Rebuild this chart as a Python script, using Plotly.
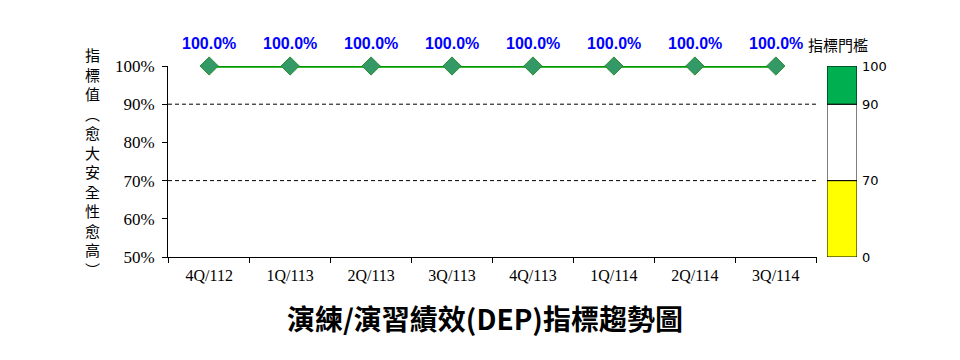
import plotly.graph_objects as go

categories = ["4Q/112", "1Q/113", "2Q/113", "3Q/113", "4Q/113", "1Q/114", "2Q/114", "3Q/114"]
values = [100.0, 100.0, 100.0, 100.0, 100.0, 100.0, 100.0, 100.0]
y_ticks = [50, 60, 70, 80, 90, 100]
ref_lines = [90, 70]
# threshold bands: (bottom, top, colour)
band_bottoms = [50, 70, 90]
band_tops = [70, 90, 100]
band_colors = ["#ffff00", "#ffffff", "#00b050"]
band_labels = ["0", "70", "90", "100"]
band_label_pos = [50, 70, 90, 100]

title_text = "演練/演習績效(DEP)指標趨勢圖"
ytitle_chars = list("指標值︵愈大安全性愈高︶")

W, H = 960, 360
ML, MR, MT, MB = 168, 90, 66, 103
plot_w = W - ML - MR
plot_h = H - MT - MB
main_dom = [0, (817 - ML) / plot_w]
bar_dom = [(827 - ML) / plot_w, (857 - ML) / plot_w]


def px(x):
    return (x - ML) / plot_w


def py(y):
    return (H - MB - y) / plot_h


fig = go.Figure()

fig.add_trace(go.Scatter(
    x=categories, y=values, mode="lines+markers",
    line=dict(color="#009900", width=3.5),
    marker=dict(symbol="diamond", size=14, color="#339966",
                line=dict(color="#2e8b2e", width=1)),
    cliponaxis=False, showlegend=False, hoverinfo="skip",
))

for c, v in zip(categories, values):
    fig.add_annotation(x=c, y=v, xref="x", yref="y", text=f"<b>{v:.1f}%</b>",
                       showarrow=False, yshift=23, xanchor="center", yanchor="middle",
                       font=dict(family="Liberation Sans, Arial", size=16, color="#0000ff"))

for b, t, col in zip(band_bottoms, band_tops, band_colors):
    fig.add_trace(go.Bar(
        x=["t"], y=[t - b], base=[b], xaxis="x2", yaxis="y2",
        marker=dict(color=col, line=dict(color="#000000", width=1)),
        width=1.0, showlegend=False, hoverinfo="skip",
    ))

for lab, pos in zip(band_labels, band_label_pos):
    fig.add_annotation(x=1.0, y=pos, xref="x2 domain", yref="y2", text=lab,
                       xanchor="left", yanchor="middle", xshift=3, showarrow=False,
                       font=dict(family="DejaVu Sans, Tahoma", size=13, color="#000000"))

fig.add_annotation(x=px(806), y=py(44), xref="paper", yref="paper", text="指標門檻",
                   showarrow=False, xanchor="left", yanchor="middle",
                   font=dict(family="Noto Sans CJK TC", size=15, color="#000000"))

for r in ref_lines:
    fig.add_shape(type="line", xref="x domain", yref="y", x0=0, x1=1, y0=r, y1=r,
                  line=dict(color="#000000", width=1, dash="4px,3px"))

fig.add_annotation(x=px(92), y=py(162), xref="paper", yref="paper",
                   text="<br>".join(ytitle_chars), showarrow=False,
                   xanchor="center", yanchor="middle",
                   font=dict(family="Noto Sans CJK TC", size=15, color="#000000"))

fig.add_annotation(x=px(485), y=py(318), xref="paper", yref="paper",
                   text=f"<b>{title_text}</b>", showarrow=False,
                   xanchor="center", yanchor="middle",
                   font=dict(family="Noto Sans CJK TC", size=28, color="#000000"))

fig.update_layout(
    width=W, height=H,
    margin=dict(l=ML, r=MR, t=MT, b=MB),
    paper_bgcolor="white", plot_bgcolor="white",
    barmode="overlay",
    xaxis=dict(domain=main_dom, type="category", showline=True, linecolor="#000000",
               linewidth=1, ticks="outside", tickson="boundaries", ticklen=5,
               tickcolor="#000000", showgrid=False, zeroline=False, ticklabelstandoff=4,
               tickfont=dict(family="Liberation Serif, Times New Roman", size=16, color="#000000")),
    yaxis=dict(range=[50, 100], tickvals=y_ticks, ticktext=[f"{v}%" for v in y_ticks],
               showline=True, linecolor="#000000", linewidth=1, ticks="outside",
               ticklen=5, tickcolor="#000000", showgrid=False, zeroline=False,
               ticklabelstandoff=4,
               tickfont=dict(family="Liberation Serif, Times New Roman", size=17, color="#000000")),
    xaxis2=dict(domain=bar_dom, anchor="y2", showticklabels=False, showgrid=False,
                zeroline=False, showline=False, range=[-0.5, 0.5]),
    yaxis2=dict(range=[50, 100], anchor="x2", showticklabels=False, showgrid=False,
                zeroline=False, showline=False),
)

fig.write_html("out.html")
